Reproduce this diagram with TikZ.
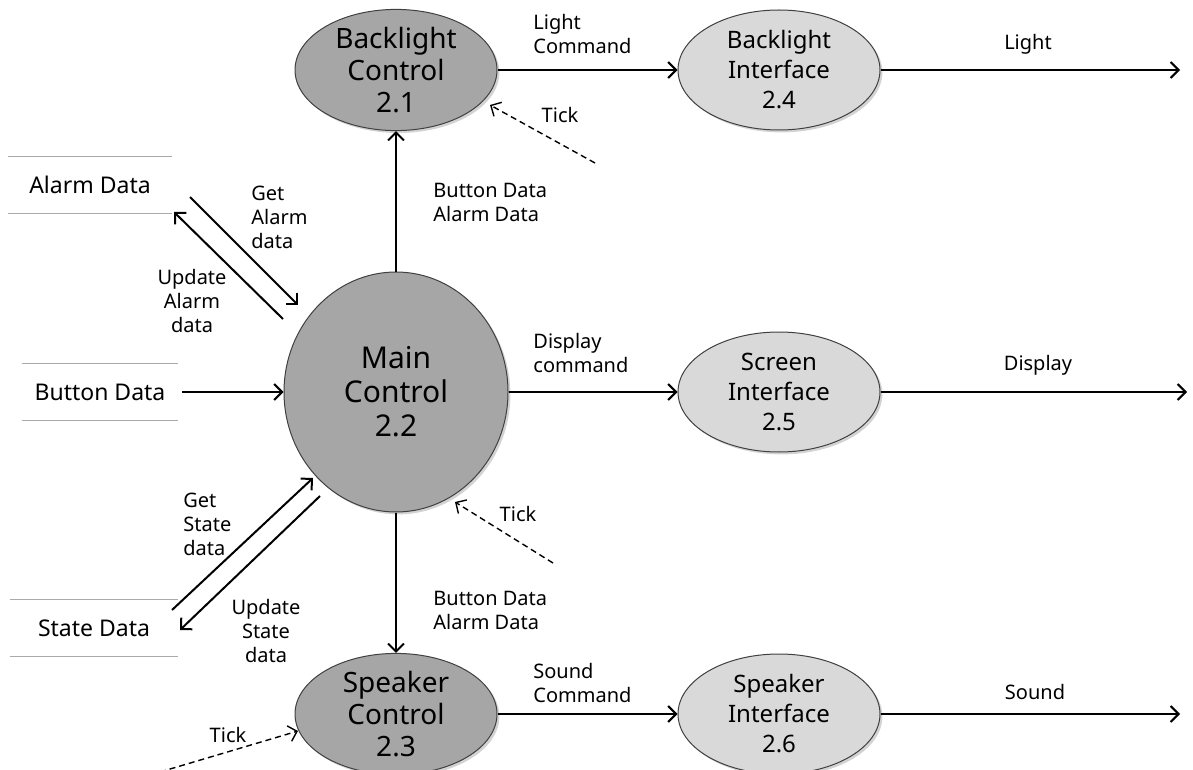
\documentclass[tikz,border=0pt]{standalone}
\usepackage{fontspec}
\setmainfont{Noto Sans}
\usetikzlibrary{shapes.geometric,arrows.meta,shadows}
\definecolor{procdark}{RGB}{166,166,166}
\definecolor{proclight}{RGB}{217,217,217}
\definecolor{storegray}{RGB}{170,170,170}
\tikzset{
	proc/.style={ellipse,draw=black!75,line width=.5pt,inner sep=0pt,align=center,
		minimum width=101pt,minimum height=60pt,
		drop shadow={opacity=.35,shadow xshift=1.2pt,shadow yshift=-1.2pt}},
	ctrl/.style={proc,fill=procdark,font=\fontsize{14}{16}\selectfont},
	iface/.style={proc,fill=proclight,font=\fontsize{12}{15}\selectfont},
	store/.style={inner sep=0pt,minimum height=28pt,font=\fontsize{11.5}{13}\selectfont},
	storeln/.style={draw=storegray,line width=.6pt},
	lbl/.style={inner sep=0pt,align=left,font=\fontsize{10}{12}\selectfont},
	flow/.style={line width=1pt},
	tick/.style={line width=.7pt,dash pattern=on 3pt off 2pt}
}
\begin{document}
\begin{tikzpicture}[x=.5pt,y=-.5pt,line join=round,>={Straight Barb[length=4pt,width=8pt]}]
	\useasboundingbox (0,0) rectangle (1193,770);
	%% Cac tien trinh
	\node[ctrl] (bc) at (396,70) {Backlight\\Control\\2.1};
	\node[ctrl,minimum width=112pt,minimum height=120pt,font=\fontsize{15}{17}\selectfont] (mc) at (396,392) {Main\\Control\\2.2};
	\node[ctrl] (sc) at (396,714) {Speaker\\Control\\2.3};
	\node[iface] (bi) at (779,70) {Backlight\\Interface\\2.4};
	\node[iface] (si) at (779,392) {Screen\\Interface\\2.5};
	\node[iface] (pi) at (779,714) {Speaker\\Interface\\2.6};
	%% Kho du lieu
	\node[store,minimum width=82pt] (ad) at (90,185) {Alarm Data};
	\node[store,minimum width=78pt] (bd) at (100,392) {Button Data};
	\node[store,minimum width=84pt] (sd) at (94,628) {State Data};
	\foreach \k in {ad,bd,sd}
	\draw[storeln] (\k.north west)--(\k.north east) (\k.south west)--(\k.south east);
	%% Diem dau cuoi
	\coordinate (ga1) at (190,197); \coordinate (ga2) at (298,305);
	\coordinate (ua1) at (283,319); \coordinate (ua2) at (174,212);
	\coordinate (gs1) at (172,610); \coordinate (gs2) at (313,478);
	\coordinate (us1) at (320,496); \coordinate (us2) at (180,630);
	\coordinate (lo) at (1180,70);
	\coordinate (do) at (1187,392);
	\coordinate (so) at (1180,714);
	\coordinate (tk1) at (595,163); \coordinate (tk2) at (553,563); \coordinate (tk3) at (160,772);
	%% Luong du lieu
	\draw[flow,->] (ga1)--(ga2);
	\draw[flow,->] (ua1)--(ua2);
	\draw[flow,->] (gs1)--(gs2);
	\draw[flow,->] (us1)--(us2);
	\draw[flow,->] ([xshift=2pt]bd.east)--(mc.west);
	\draw[flow,->] (mc.north)--(bc.south);
	\draw[flow,->] (mc.south)--(sc.north);
	\draw[flow,->] (bc.east)--(bi.west);
	\draw[flow,->] (mc.east)--(si.west);
	\draw[flow,->] (sc.east)--(pi.west);
	\draw[flow,->] (bi.east)--(lo);
	\draw[flow,->] (si.east)--(do);
	\draw[flow,->] (pi.east)--(so);
	\draw[tick,->] (tk1)--(490,105);
	\draw[tick,->] (tk2)--(455,502);
	\draw[tick,->] (tk3)--(298,731);
	%% Nhan
	\node[lbl,anchor=west] (l1) at (533,34) {Light\\Command};
	\node[lbl] (l2) at (1028,44) {Light};
	\node[lbl] (l3) at (560,115) {Tick};
	\node[lbl,anchor=west] (l4) at (433,202) {Button Data\\Alarm Data};
	\node[lbl,anchor=west] (l5) at (251,217) {Get\\Alarm\\data};
	\node[lbl,align=center] (l6) at (192,301) {Update\\Alarm\\data};
	\node[lbl,anchor=west] (l7) at (533,353) {Display\\command};
	\node[lbl] (l8) at (1038,365) {Display};
	\node[lbl] (l9) at (518,514) {Tick};
	\node[lbl,anchor=west] (l10) at (183,524) {Get\\State\\data};
	\node[lbl,align=center] (l11) at (266,631) {Update\\State\\data};
	\node[lbl,anchor=west] (l12) at (433,610) {Button Data\\Alarm Data};
	\node[lbl,anchor=west] (l13) at (533,683) {Sound\\Command};
	\node[lbl] (l14) at (1035,692) {Sound};
	\node[lbl] (l15) at (228,735) {Tick};
\end{tikzpicture}
\end{document}
